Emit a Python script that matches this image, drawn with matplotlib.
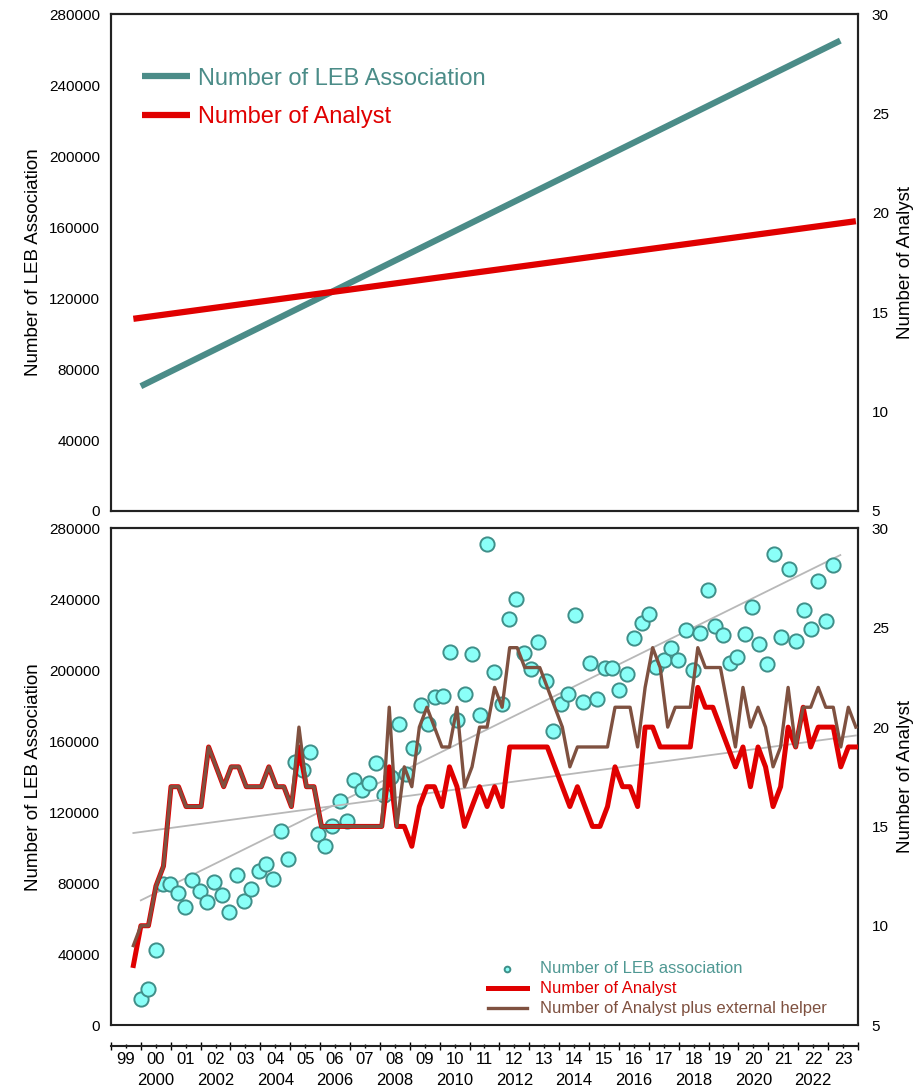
import matplotlib.pyplot as plt
import numpy as np

plt.rcParams['font.family'] = ['Liberation Sans', 'DejaVu Sans']

# LEB associations, roughly one reading per quarter from 2000 on (last slot not reported)
leb_counts = [14650, 20100, 42250, 79440, 79440, 74540, 66650, 81700, 75500, 69300,
              80560, 73400, 63500, 84500, 69700, 76450, 86950, 90540, 82100, 109700,
              93350, 148350, 143660, 154000, 108000, 100850, 112500, 126400, 114900, 138400,
              132400, 136500, 148000, 129600, 139900, 169600, 141800, 156200, 180300, 170000,
              185000, 185500, 210300, 171800, 186900, 209400, 175000, 271400, 199000, 181300,
              229100, 240400, 209800, 201000, 215900, 193800, 165600, 181300, 186900, 231400,
              182200, 204100, 183700, 201300, 201300, 189100, 197700, 218400, 226900, 231600,
              201900, 205600, 212800, 205600, 222500, 200000, 221000, 245100, 224800, 219700,
              204100, 207500, 220300, 236000, 215000, 203800, 265700, 218800, 257300, 216500,
              233800, 223500, 250300, 227600, 259200, np.nan]
leb_start, leb_end = 2000.0, 2023.41

# analysts per quarter, Q4 1999 to Q4 2023
analysts = [8, 10, 10, 12, 13, 17, 17, 16, 16, 16,
            19, 18, 17, 18, 18, 17, 17, 17, 18, 17,
            17, 16, 19, 17, 17, 15, 15, 15, 15, 15,
            15, 15, 15, 15, 18, 15, 15, 14, 16, 17,
            17, 16, 18, 17, 15, 16, 17, 16, 17, 16,
            19, 19, 19, 19, 19, 19, 18, 17, 16, 17,
            16, 15, 15, 16, 18, 17, 17, 16, 20, 20,
            19, 19, 19, 19, 19, 22, 21, 21, 20, 19,
            18, 19, 17, 19, 18, 16, 17, 20, 19, 21,
            19, 20, 20, 20, 18, 19, 19]
analysts_plus_helpers = [9, 10, 10, 12, 13, 17, 17, 16, 16, 16,
                         19, 18, 17, 18, 18, 17, 17, 17, 18, 17,
                         17, 16, 20, 17, 17, 15, 15, 15, 15, 15,
                         15, 15, 15, 15, 21, 15, 18, 17, 20, 21,
                         20, 19, 19, 21, 17, 18, 20, 20, 22, 21,
                         24, 24, 23, 23, 23, 22, 21, 20, 18, 19,
                         19, 19, 19, 19, 21, 21, 21, 19, 22, 24,
                         23, 20, 21, 21, 21, 24, 23, 23, 23, 21,
                         19, 22, 20, 21, 20, 18, 19, 22, 19, 21,
                         21, 22, 21, 21, 19, 21, 20]
analyst_start, analyst_end = 1999.75, 2023.93

years = list(range(1999, 2024))

teal = '#4b8c88'
red = '#e00000'
brown = '#7f5140'
grey = '#b8b8b8'

leb = np.array(leb_counts, dtype=float)
leb_x = np.linspace(leb_start, leb_end, len(leb))
an = np.array(analysts, dtype=float)
an_plus = np.array(analysts_plus_helpers, dtype=float)
an_x = np.linspace(analyst_start, analyst_end, len(an))

# linear trends
ok = ~np.isnan(leb)
leb_fit = np.polyfit(leb_x[ok], leb[ok], 1)
an_fit = np.polyfit(an_x, an, 1)
leb_tx = np.array([leb_x[0], leb_x[-1]])
an_tx = np.array([an_x[0], an_x[-1]])

fig = plt.figure(figsize=(9.17, 10.87), dpi=100)
ax_top = fig.add_axes([0.121, 0.5299, 0.8146, 0.4572])
ax_bot = fig.add_axes([0.121, 0.0570, 0.8146, 0.4568])
ax_top_r = ax_top.twinx()
ax_bot_r = ax_bot.twinx()

for a in (ax_top, ax_bot):
    a.set_xlim(1999, 2024)
    a.set_ylim(0, 280000)
    a.set_yticks(np.arange(0, 280001, 40000))
    a.tick_params(axis='y', length=0, pad=8, labelsize=11)
    a.set_ylabel('Number of LEB Association', fontsize=13.5, labelpad=5)
for a in (ax_top_r, ax_bot_r):
    a.set_ylim(5, 30)
    a.set_yticks(np.arange(5, 31, 5))
    a.tick_params(axis='y', length=0, pad=10, labelsize=11)
    a.set_ylabel('Number of Analyst', fontsize=13.5, labelpad=6)
for a in (ax_top, ax_bot, ax_top_r, ax_bot_r):
    for s in a.spines.values():
        s.set_linewidth(1.5)
        s.set_color('#222222')

# top panel: the two trend lines alone
ax_top.set_xticks([])
l1, = ax_top.plot(leb_tx, np.polyval(leb_fit, leb_tx), color=teal, lw=4.5,
                  solid_capstyle='butt', label='Number of LEB Association')
l2, = ax_top_r.plot(an_tx, np.polyval(an_fit, an_tx), color=red, lw=4.5,
                    solid_capstyle='butt', label='Number of Analyst')
leg = ax_top_r.legend(handles=[l1, l2], loc='upper left', bbox_to_anchor=(0.042, 0.892),
                      frameon=False, fontsize=17, handlelength=2.0, handletextpad=0.35,
                      labelspacing=0.7, borderpad=0, borderaxespad=0)
for t, c in zip(leg.get_texts(), [teal, red]):
    t.set_color(c)

# bottom panel: quarterly data with trends
ax_bot.plot(leb_tx, np.polyval(leb_fit, leb_tx), color=grey, lw=1.3, zorder=1)
ax_bot_r.plot(an_tx, np.polyval(an_fit, an_tx), color=grey, lw=1.3, zorder=1)
sc = ax_bot.scatter(leb_x, leb, s=105, facecolor='#8afff8', edgecolor='#3f8f89',
                    linewidths=1.4, zorder=2, label='Number of LEB association')
r, = ax_bot_r.plot(an_x, an, color=red, lw=3.6, zorder=3, label='Number of Analyst')
b, = ax_bot_r.plot(an_x, an_plus, color=brown, lw=2.4, zorder=4,
                   label='Number of Analyst plus external helper')
ax_bot.set_zorder(ax_bot_r.get_zorder() - 1)
ax_bot_r.patch.set_visible(False)

leg2 = ax_bot_r.legend(handles=[sc, r, b], loc='upper left', bbox_to_anchor=(0.505, 0.128),
                       frameon=False, fontsize=12, handlelength=2.3, handletextpad=0.8,
                       labelspacing=0.3, borderpad=0, borderaxespad=0, markerscale=0.4)
for t, c in zip(leg2.get_texts(), ['#4f9893', red, brown]):
    t.set_color(c)

# x axis sits a little below the frame; year numbers under mid-year ticks
ax_bot.spines['bottom'].set_position(('outward', 15))
ax_bot.set_xticks(np.arange(years[0], years[-1] + 2), labels=[])
mid_labels = [f'{y % 100:02d}' + (f'\n{y}' if y % 2 == 0 else '') for y in years]
ax_bot.set_xticks(np.array(years) + 0.5, labels=mid_labels, minor=True)
ax_bot.tick_params(axis='x', which='major', direction='inout', length=6, width=1)
ax_bot.tick_params(axis='x', which='minor', direction='inout', length=3, width=1,
                   pad=3, labelsize=12)
for t in ax_bot.get_xticklabels(minor=True):
    t.set_linespacing(1.45)

fig.savefig('out.png', dpi=100)
